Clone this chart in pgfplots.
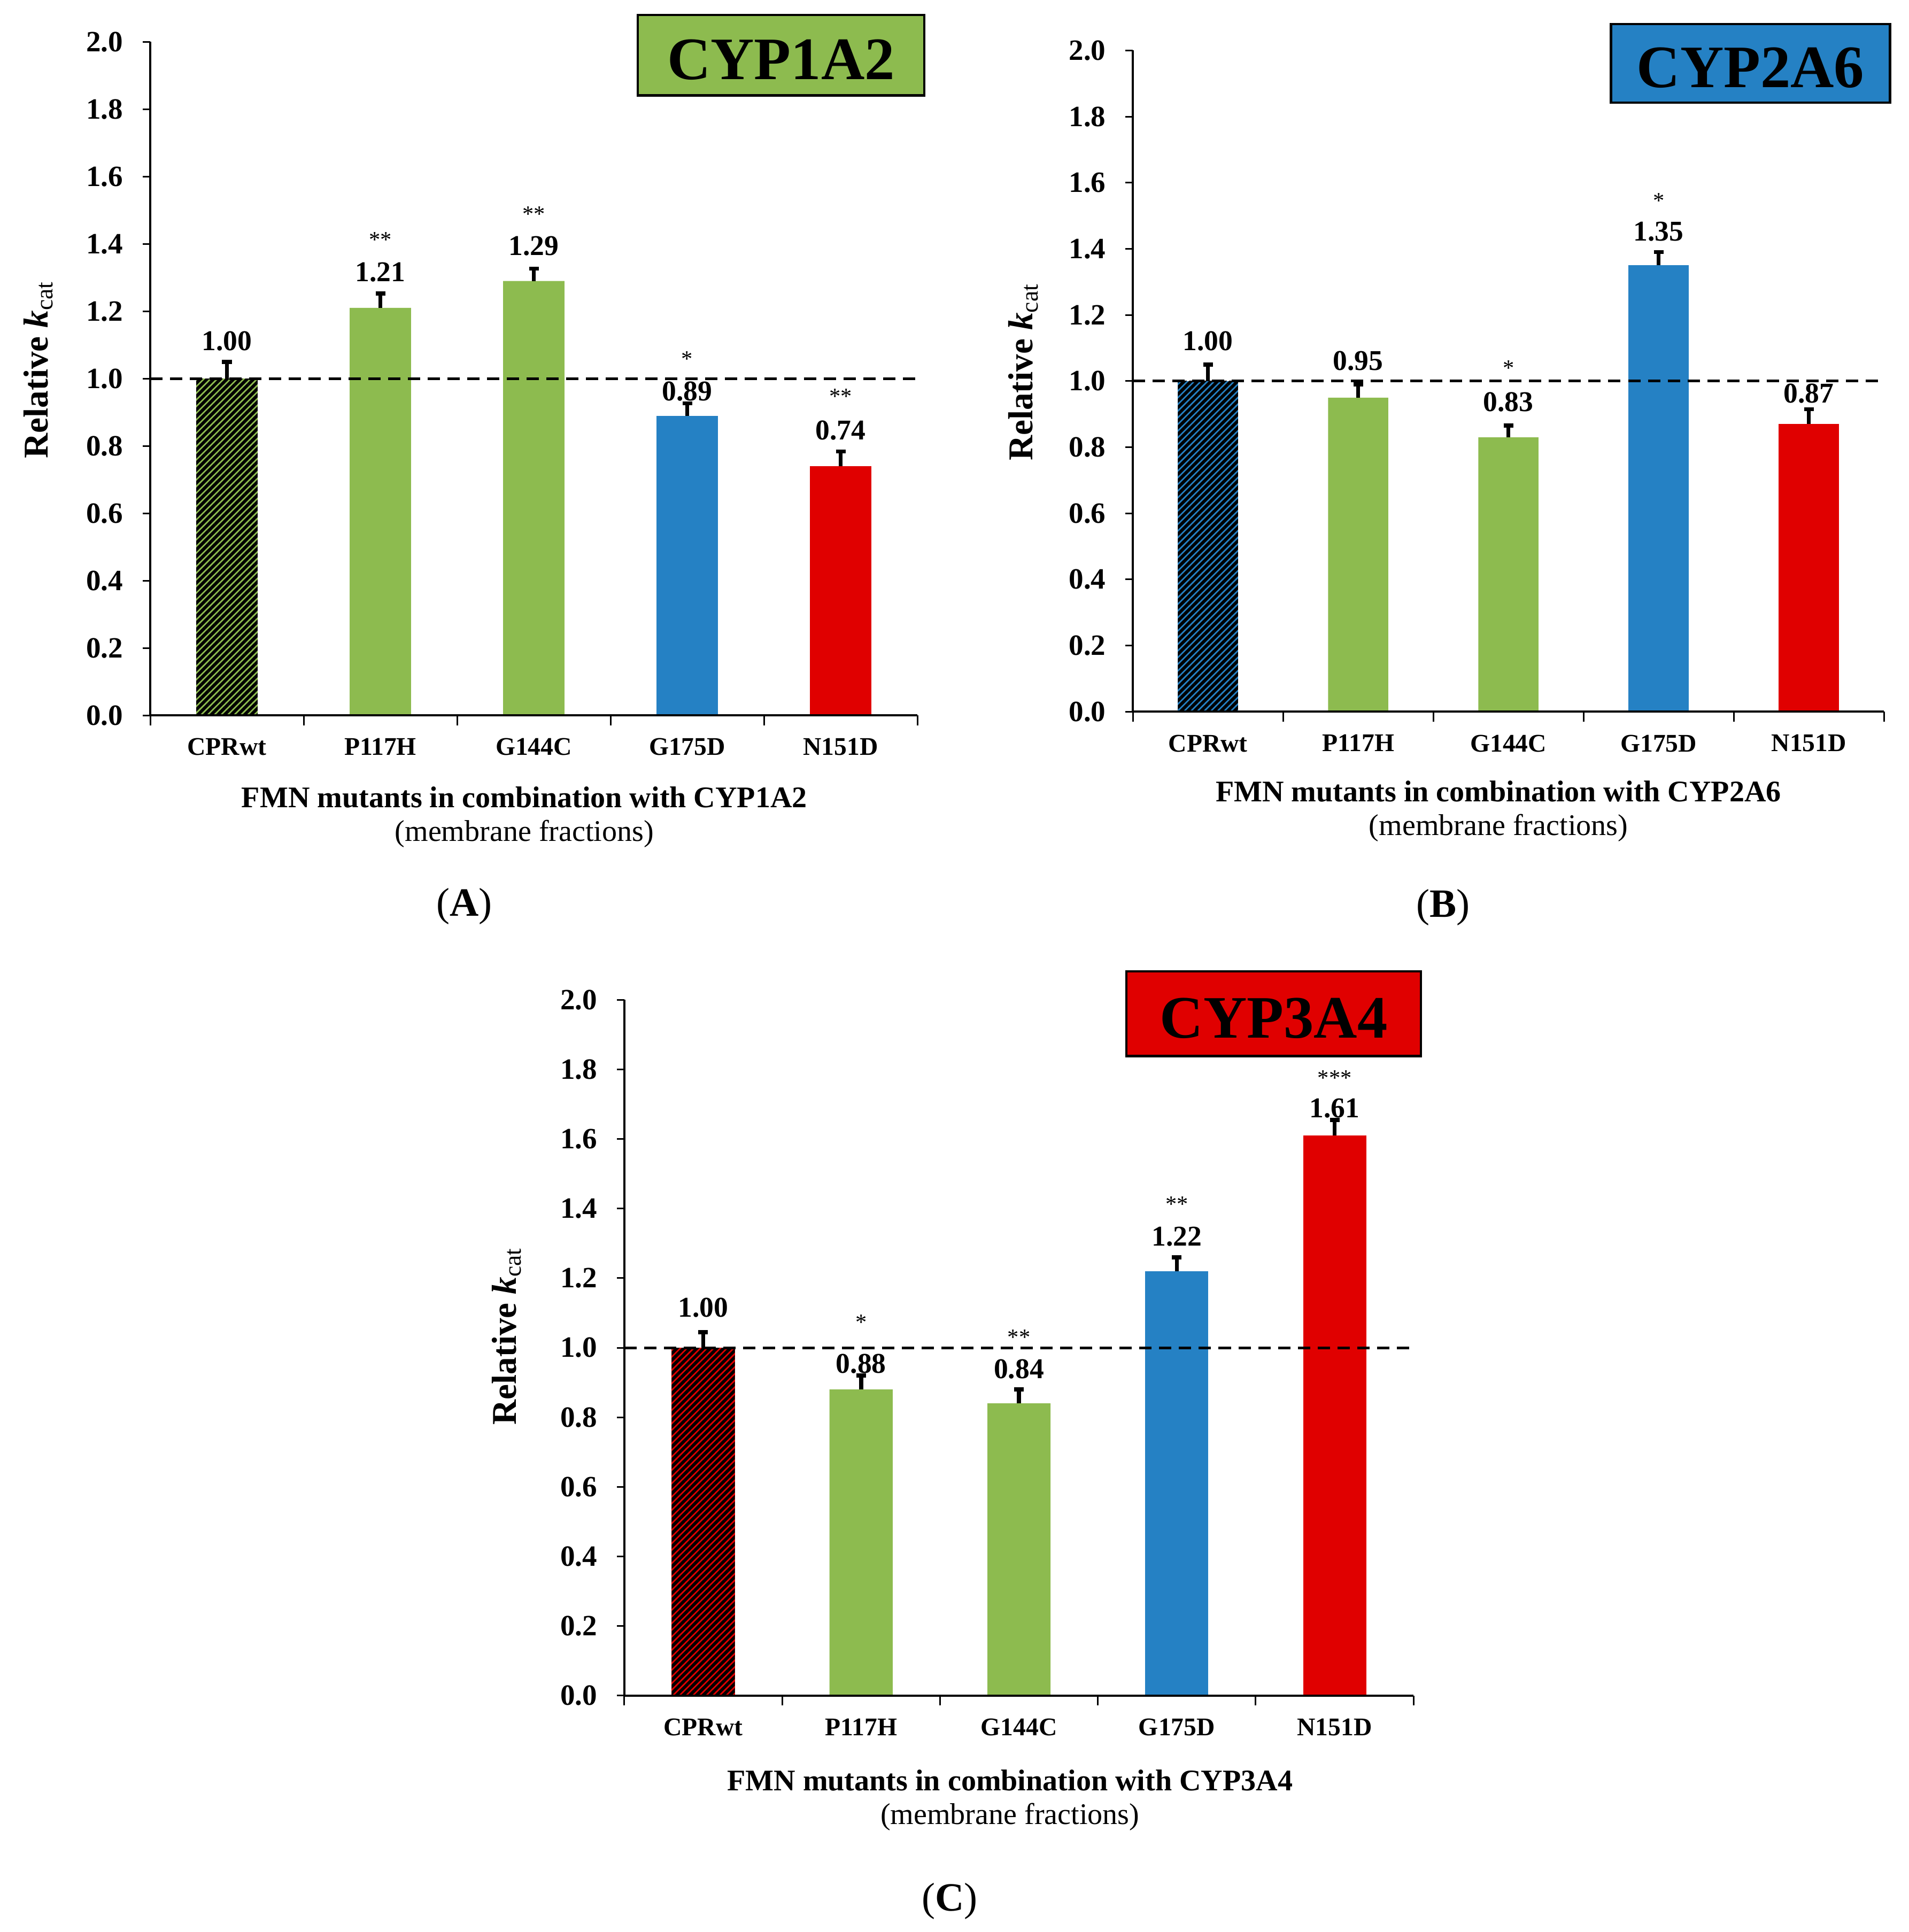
\documentclass[border=0pt]{standalone}
\usepackage{fontspec}
\setmainfont{Liberation Serif}
\usepackage{pgfplots}
\pgfplotsset{compat=1.18}
\usetikzlibrary{patterns.meta}

\definecolor{cypgreen}{HTML}{8DBB4F}
\definecolor{cypblue}{HTML}{2581C4}
\definecolor{cypred}{HTML}{E00000}

\newcommand\ytickfont{\fontsize{11}{13}\selectfont\bfseries}
\newcommand\xtickfont{\fontsize{9.5}{11}\selectfont\bfseries}
\newcommand\valfont{\fontsize{10.7}{12}\selectfont\bfseries}
\newcommand\starfont{\fontsize{8.5}{10}\selectfont}
\newcommand\labfont{\fontsize{11.2}{12.6}\selectfont}
\newcommand\titlefont{\fontsize{22.5}{24}\selectfont\bfseries}

\pgfplotsset{
  kcat/.style={
    scale only axis, axis on top,
    xmin=-0.5, xmax=4.5, ymin=0, ymax=2,
    axis x line*=bottom, axis y line*=left,
    axis line style={line width=0.8pt, black, -},
    tick align=outside,
    xtick={0,1,2,3,4},
    xticklabels={CPRwt,P117H,G144C,G175D,N151D},
    major x tick style={draw=none},
    minor xtick={-0.5,0.5,1.5,2.5,3.5,4.5},
    minor tick length=3.7pt,
    minor x tick style={line width=0.6pt, black},
    ytick={0,0.2,0.4,0.6,0.8,1.0,1.2,1.4,1.6,1.8,2.0},
    major tick length=2.8pt,
    y tick style={line width=0.6pt, black},
    x tick label style={font=\xtickfont, yshift=-2.3pt},
    y tick label style={font=\ytickfont, xshift=-3.8pt},
    yticklabel style={/pgf/number format/.cd, fixed, fixed zerofill, precision=1, assume math mode=true},
    ylabel={\textbf{Relative \textit{k}}\textsubscript{cat}},
    ylabel style={font=\fontsize{13}{15}\selectfont, anchor=center},
    xlabel style={font=\labfont, align=center, anchor=center},
  },
  kbar/.style={ybar, bar width=0.4, bar shift=0pt, draw=none,
    error bars/y dir=plus, error bars/y explicit,
    error bars/error bar style={line width=1.5pt, draw=black},
    error bars/error mark options={rotate=90, draw=black, line width=1.5pt, mark size=1.8pt}},
  hatch/.style={preaction={fill=#1},
    pattern={Lines[angle=45, distance=1.76pt, line width=1.15pt]}, pattern color=black},
  refline/.style={black, line width=1pt, dash pattern=on 4.6pt off 2.8pt},
  vals/.style={only marks, mark=none, nodes near coords, point meta=explicit symbolic,
    every node near coord/.append style={anchor=base, inner sep=0pt, font=\valfont}},
  stars/.style={only marks, mark=none, nodes near coords, point meta=explicit symbolic,
    every node near coord/.append style={anchor=base, inner sep=0pt, font=\starfont}},
}

\begin{document}
\begin{tikzpicture}
\path[use as bounding box] (0,0) rectangle (713pt,-721.74pt);

% (A) CYP1A2
\begin{axis}[kcat, at={(56.12pt,-267.26pt)}, anchor=south west,
    width=286.58pt, height=251.62pt,
    xlabel={\textbf{FMN mutants in combination with CYP1A2}\\(membrane fractions)},
    xlabel style={at={(axis description cs:0.4877,-0.1508)}},
    ylabel style={at={(axis description cs:-0.1462,0.5137)}}]
\addplot[kbar, hatch=cypgreen] coordinates {(0,1.00) +- (0,0.05)};
\addplot[kbar, fill=cypgreen] coordinates {(1,1.21) +- (0,0.043) (2,1.29) +- (0,0.037)};
\addplot[kbar, fill=cypblue] coordinates {(3,0.89) +- (0,0.037)};
\addplot[kbar, fill=cypred] coordinates {(4,0.74) +- (0,0.044)};
\addplot[refline] coordinates {(-0.5,1) (4.5,1)};
\addplot[vals] coordinates {(0,1.083)[1.00] (1,1.288)[1.21] (2,1.366)[1.29] (3,0.935)[0.89] (4,0.818)[0.74]};
\addplot[stars] coordinates {(1,1.390)[**] (2,1.466)[**] (3,1.036)[*] (4,0.925)[**]};
\end{axis}

% (B) CYP2A6
\begin{axis}[kcat, at={(423.2pt,-265.88pt)}, anchor=south west,
    width=280.6pt, height=247.02pt,
    xlabel={\textbf{FMN mutants in combination with CYP2A6}\\(membrane fractions)},
    xlabel style={at={(axis description cs:0.4867,-0.1503)}},
    ylabel style={at={(axis description cs:-0.1459,0.514)}}]
\addplot[kbar, hatch=cypblue] coordinates {(0,1.00) +- (0,0.05)};
\addplot[kbar, fill=cypgreen] coordinates {(1,0.95) +- (0,0.04) (2,0.83) +- (0,0.036)};
\addplot[kbar, fill=cypblue] coordinates {(3,1.35) +- (0,0.04)};
\addplot[kbar, fill=cypred] coordinates {(4,0.87) +- (0,0.045)};
\addplot[refline] coordinates {(-0.5,1) (4.5,1)};
\addplot[vals] coordinates {(0,1.093)[1.00] (1,1.033)[0.95] (2,0.909)[0.83] (3,1.425)[1.35] (4,0.934)[0.87]};
\addplot[stars] coordinates {(2,1.016)[*] (3,1.523)[*]};
\end{axis}

% (C) CYP3A4
\begin{axis}[kcat, at={(233.22pt,-633.42pt)}, anchor=south west,
    width=294.86pt, height=259.9pt,
    xlabel={\textbf{FMN mutants in combination with CYP3A4}\\(membrane fractions)},
    xlabel style={at={(axis description cs:0.4886,-0.1503)}},
    ylabel style={at={(axis description cs:-0.1491,0.517)}}]
\addplot[kbar, hatch=cypred] coordinates {(0,1.00) +- (0,0.045)};
\addplot[kbar, fill=cypgreen] coordinates {(1,0.88) +- (0,0.04) (2,0.84) +- (0,0.04)};
\addplot[kbar, fill=cypblue] coordinates {(3,1.22) +- (0,0.04)};
\addplot[kbar, fill=cypred] coordinates {(4,1.61) +- (0,0.045)};
\addplot[refline] coordinates {(-0.5,1) (4.5,1)};
\addplot[vals] coordinates {(0,1.088)[1.00] (1,0.927)[0.88] (2,0.912)[0.84] (3,1.293)[1.22] (4,1.662)[1.61]};
\addplot[stars] coordinates {(1,1.052)[*] (2,1.009)[**] (3,1.391)[**] (4,1.754)[***]};
\end{axis}

% enzyme boxes and panel letters
\begin{scope}[every node/.style={draw=black, line width=0.9pt, inner sep=0pt,
    text height=18.1pt, text depth=0pt, font=\titlefont}]
\node[fill=cypgreen, minimum width=107pt, minimum height=30.1pt] at (291.78pt,-20.65pt) {CYP1A2};
\node[fill=cypblue, minimum width=104.3pt, minimum height=29.4pt] at (653.94pt,-23.69pt) {CYP2A6};
\node[fill=cypred, minimum width=110pt, minimum height=31.6pt] at (475.82pt,-378.67pt) {CYP3A4};
\end{scope}
\begin{scope}[every node/.style={font=\fontsize{15}{17}\selectfont}]
\node at (173.42pt,-338.56pt) {(\textbf{A})};
\node at (539.12pt,-339.02pt) {(\textbf{B})};
\node at (354.8pt,-710.24pt) {(\textbf{C})};
\end{scope}
\end{tikzpicture}
\end{document}
